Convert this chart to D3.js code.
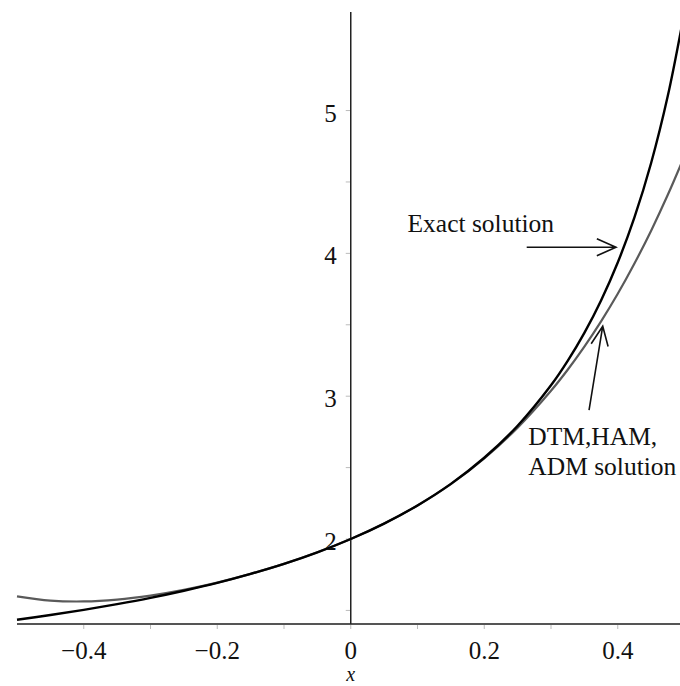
<html lang="en">

<head>
  <meta http-equiv="Content-Type" content="text/html; charset=utf-8" />
  <script src="https://d3js.org/d3.v7.min.js"></script>
  <style>
    body { margin: 0; background: #ffffff; }
    svg { display: block; }
    svg text { font-family: "Liberation Serif", "Times New Roman", Times, "DejaVu Serif", serif; }
  </style>
</head>

<body>
  <div id="plot"></div>

  <script>
    'use strict';

    // values
    const xValues = [-0.5, -0.45, -0.4, -0.35, -0.3, -0.25, -0.2, -0.15, -0.1, -0.05, 0, 0.05, 0.1, 0.15, 0.2, 0.25, 0.3, 0.325, 0.35, 0.375, 0.4, 0.425, 0.45, 0.475, 0.5];
    const exactValues = [1.435, 1.468, 1.504, 1.544, 1.588, 1.638, 1.693, 1.756, 1.826, 1.907, 2.000, 2.108, 2.235, 2.386, 2.569, 2.793, 3.076, 3.247, 3.443, 3.670, 3.936, 4.252, 4.633, 5.103, 5.694];
    const approxValues = [1.599, 1.569, 1.563, 1.576, 1.604, 1.644, 1.695, 1.756, 1.826, 1.907, 2.000, 2.108, 2.235, 2.385, 2.565, 2.780, 3.038, 3.185, 3.347, 3.524, 3.717, 3.929, 4.159, 4.410, 4.682];

    const xTickValues = [-0.4, -0.2, 0, 0.2, 0.4];
    const xTickLabels = ["\u22120.4", "\u22120.2", "0", "0.2", "0.4"];
    const xMinorTicks = [-0.4, -0.3, -0.2, -0.1, 0, 0.1, 0.2, 0.3, 0.4];
    const yTickValues = [2, 3, 4, 5];
    const yTickLabels = ["2", "3", "4", "5"];
    const yMinorTicks = [1.5, 2, 2.5, 3, 3.5, 4, 4.5, 5];

    const svgWidth = 680;
    const svgHeight = 686;

    const xScale = d3.scaleLinear().domain([-0.5, 0.5]).range([17, 684.5]);
    const yScale = d3.scaleLinear().domain([1.405, 5.69]).range([624, 12]);

    const svg = d3.select("#plot")
      .append("svg")
      .attr("width", svgWidth)
      .attr("height", svgHeight);

    // ticks
    svg.append("g").selectAll("line")
      .data(xMinorTicks)
      .join("line")
      .attr("x1", d => xScale(d)).attr("x2", d => xScale(d))
      .attr("y1", yScale(1.405)).attr("y2", yScale(1.405) + 5)
      .attr("stroke", "#bbbbbb").attr("stroke-width", 1);

    svg.append("g").selectAll("line")
      .data(yMinorTicks)
      .join("line")
      .attr("x1", xScale(0) - 5).attr("x2", xScale(0))
      .attr("y1", d => yScale(d)).attr("y2", d => yScale(d))
      .attr("stroke", "#bbbbbb").attr("stroke-width", 1);

    // axis lines
    svg.append("line")
      .attr("x1", xScale(-0.5)).attr("x2", svgWidth)
      .attr("y1", yScale(1.405)).attr("y2", yScale(1.405))
      .attr("stroke", "#555555").attr("stroke-width", 2);

    svg.append("line")
      .attr("x1", xScale(0)).attr("x2", xScale(0))
      .attr("y1", yScale(5.69)).attr("y2", yScale(1.405))
      .attr("stroke", "#222222").attr("stroke-width", 1.5);

    // tick labels
    svg.append("g").selectAll("text")
      .data(xTickValues)
      .join("text")
      .attr("x", d => xScale(d))
      .attr("y", 659)
      .attr("text-anchor", "middle")
      .attr("font-size", "25px")
      .attr("fill", "#111")
      .text((d, i) => xTickLabels[i]);

    svg.append("g").selectAll("text")
      .data(yTickValues)
      .join("text")
      .attr("x", xScale(0) - 14)
      .attr("y", d => yScale(d) + 11)
      .attr("text-anchor", "end")
      .attr("font-size", "25px")
      .attr("fill", "#111")
      .text((d, i) => yTickLabels[i]);

    svg.append("text")
      .attr("x", xScale(0))
      .attr("y", 681)
      .attr("text-anchor", "middle")
      .attr("font-style", "italic")
      .attr("font-size", "20px")
      .attr("fill", "#111")
      .text("x");

    // curves
    const lineOf = values => d3.line()
      .x((d, i) => xScale(xValues[i]))
      .y(d => yScale(d))
      .curve(d3.curveCatmullRom)(values);

    svg.append("path")
      .attr("d", lineOf(approxValues))
      .attr("fill", "none")
      .attr("stroke", "#5a5a5a")
      .attr("stroke-width", 2.2);

    svg.append("path")
      .attr("d", lineOf(exactValues))
      .attr("fill", "none")
      .attr("stroke", "#000000")
      .attr("stroke-width", 2.4);

    // annotations
    const drawArrow = (x1, y1, x2, y2) => {
      const px1 = xScale(x1), py1 = yScale(y1), px2 = xScale(x2), py2 = yScale(y2);
      const ang = Math.atan2(py2 - py1, px2 - px1);
      const headLen = 21, spread = 0.42;
      const a1 = [px2 - headLen * Math.cos(ang - spread), py2 - headLen * Math.sin(ang - spread)];
      const a2 = [px2 - headLen * Math.cos(ang + spread), py2 - headLen * Math.sin(ang + spread)];
      svg.append("path")
        .attr("d", `M${px1},${py1}L${px2},${py2}M${a1[0]},${a1[1]}L${px2},${py2}L${a2[0]},${a2[1]}`)
        .attr("fill", "none")
        .attr("stroke", "#111")
        .attr("stroke-width", 1.6);
    };

    const drawLabel = (x, y, txt) =>
      svg.append("text")
        .attr("x", xScale(x)).attr("y", yScale(y))
        .attr("font-size", "25.5px")
        .attr("fill", "#111")
        .text(txt);

    drawLabel(0.085, 4.15, "Exact solution");
    drawArrow(0.2636, 4.043, 0.3974, 4.043);

    drawLabel(0.266, 2.658, "DTM,HAM,");
    drawLabel(0.266, 2.448, "ADM solution");
    drawArrow(0.357, 2.903, 0.3775, 3.49);
  </script>
</body>

</html>
